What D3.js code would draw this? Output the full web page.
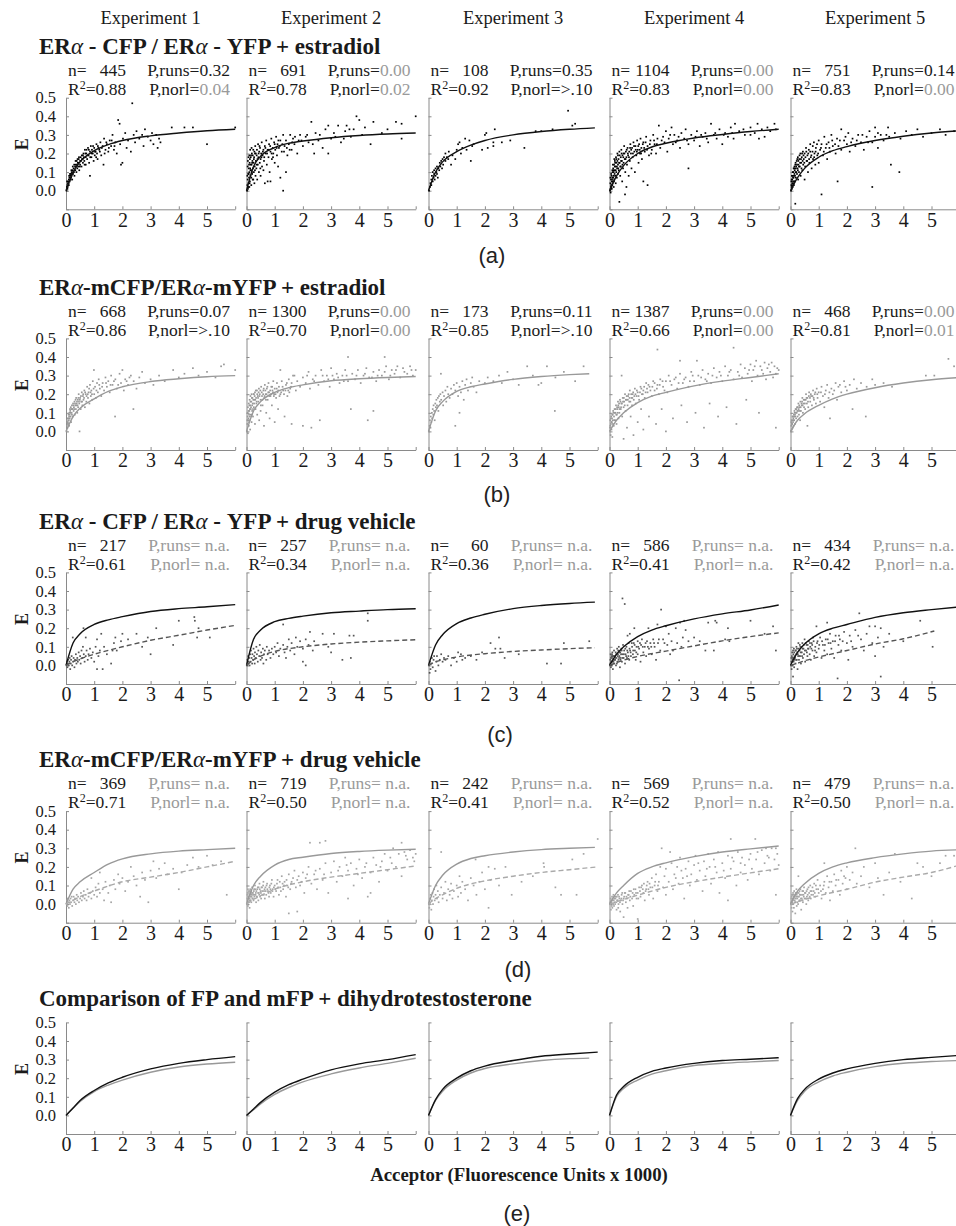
<!DOCTYPE html>
<html><head><meta charset="utf-8">
<script src="https://cdn.jsdelivr.net/npm/d3@7"></script>
<style>body{margin:0;background:#fff}svg{display:block}</style></head>
<body><svg id="chart" width="956" height="1226"></svg>
<script>
// ---------- labels ----------
const experiments = ["Experiment 1","Experiment 2","Experiment 3","Experiment 4","Experiment 5"];
const rowTitles = [
  ["ER","α"," - CFP / ER","α"," - YFP + estradiol"],
  ["ER","α","-mCFP/ER","α","-mYFP + estradiol"],
  ["ER","α"," - CFP / ER","α"," - YFP + drug vehicle"],
  ["ER","α","-mCFP/ER","α","-mYFP + drug vehicle"],
  ["Comparison of FP and mFP + dihydrotestosterone"]
];
const panelLetters = ["(a)","(b)","(c)","(d)","(e)"];
const xTickLabels = [0,1,2,3,4,5];
const yTickLabels = [0.0,0.1,0.2,0.3,0.4,0.5];
const xAxisTitle = "Acceptor (Fluorescence Units x 1000)";

// ---------- statistics ----------
const nA = [445,691,108,1104,751], r2A = ["0.88","0.78","0.92","0.83","0.83"];
const runsA = ["0.32","0.00","0.35","0.00","0.14"], runsSigA = [0,1,0,1,0];
const norlA = ["0.04","0.02",">.10","0.00","0.00"], norlSigA = [1,1,0,1,1];
const nB = [668,1300,173,1387,468], r2B = ["0.86","0.70","0.85","0.66","0.81"];
const runsB = ["0.07","0.00","0.11","0.00","0.00"], runsSigB = [0,1,0,1,1];
const norlB = [">.10","0.00",">.10","0.00","0.01"], norlSigB = [0,1,0,1,1];
const nC = [217,257,60,586,434], r2C = ["0.61","0.34","0.36","0.41","0.42"];
const nD = [369,719,242,569,479], r2D = ["0.71","0.50","0.41","0.52","0.50"];

// ---------- scatter points (flat x,y pairs) ----------
const ptsA1=[.02,0,.03,.02,.05,.03,.05,.01,.07,.04,.08,.05,.1,.06,.1,.03,.12,.07,.13,.05,.15,.08,.15,.06,.17,.09,.18,.07,.2,.1,.2,.08,.22,.06,.23,.11,.25,.09,.27,.12,.28,.1,.3,.08,.32,.13,.33,.11,.35,.14,.37,.1,.38,.16,.4,.12,.42,.15,.43,.13,.45,.17,.47,.11,.5,.16,.5,.14,.52,.18,.55,.13,.57,.17,.6,.15,.6,.19,.62,.2,.65,.16,.67,.22,.7,.18,.7,.14,.72,.2,.75,.17,.78,.23,.8,.19,.82,.15,.85,.21,.85,.08,.88,.24,.9,.18,.92,.22,.95,.2,.98,.16,1,.23,1.02,.19,1.05,.21,1.08,.25,1.1,.2,1.12,.17,1.15,.23,1.2,.21,1.22,.26,1.25,.19,1.3,.24,1.33,.14,1.35,.28,1.4,.22,1.45,.25,1.5,.21,1.55,.27,1.6,.24,1.65,.3,1.7,.22,1.75,.26,1.8,.2,1.85,.38,1.9,.36,1.92,.25,1.95,.14,2,.15,2.02,.28,2.1,.31,2.15,.23,2.2,.27,2.3,.21,2.35,.47,2.4,.3,2.45,.26,2.5,.32,2.6,.28,2.7,.3,2.75,.24,2.8,.33,2.9,.29,3,.27,3.05,.31,3.1,.25,3.2,.3,3.25,.23,3.3,.28,3.35,.26,3.75,.34,4.2,.34,4.5,.34,5,.25,6,.34];
const ptsA1b=[.04,.05,.06,.02,.09,.04,.11,.08,.14,.09,.16,.06,.19,.11,.21,.09,.24,.13,.26,.1,.29,.14,.31,.11,.34,.16,.36,.13,.39,.14,.41,.17,.44,.15,.46,.18,.49,.13,.53,.16,.56,.19,.59,.17,.63,.18,.66,.14,.69,.2,.73,.22,.77,.19,.81,.22,.86,.18,.91,.2,.96,.24,1.03,.21,1.07,.18,1.13,.24,1.18,.22,1.27,.23,1.37,.2,1.43,.26,1.52,.23,1.62,.27,1.72,.24];
const ptsA2=[.02,0,.03,.03,.04,.06,.05,.01,.06,.09,.07,.04,.08,.12,.09,.07,.1,.02,.1,.1,.11,.15,.12,.05,.13,.12,.14,.08,.15,.18,.16,.11,.17,.03,.18,.14,.19,.2,.2,.09,.21,.16,.22,.06,.23,.12,.24,.22,.25,.15,.26,.1,.27,.18,.28,.04,.29,.13,.3,.2,.31,.24,.32,.08,.33,.16,.35,.12,.36,.19,.37,.22,.38,.06,.4,.14,.41,.25,.42,.18,.44,.1,.45,.21,.47,.15,.48,.23,.5,.17,.5,.08,.52,.2,.54,.26,.55,.13,.57,.19,.6,.22,.6,.11,.62,.16,.65,.04,.65,.24,.68,.2,.7,.27,.72,.14,.75,.05,.75,.22,.78,.18,.8,.25,.82,.1,.85,.05,.85,.21,.88,.28,.9,.17,.93,.23,.95,.2,.98,.26,1,.15,1.02,.22,1.05,.29,1.08,.19,1.1,.25,1.12,.13,1.15,.23,1.2,.07,1.2,.27,1.25,.21,1.3,0,1.3,.3,1.35,.24,1.4,.1,1.4,.27,1.45,.19,1.5,.25,1.55,.3,1.6,.22,1.65,.28,1.7,.25,1.8,.2,1.85,.27,1.9,.3,2,.24,2.1,.29,2.2,.26,2.3,.37,2.4,.2,2.45,.31,2.55,.27,2.7,.23,2.8,.33,2.9,.2,2.9,.35,3,.28,3.1,.31,3.25,.35,3.35,.26,3.5,.32,3.55,.35,3.7,.29,3.8,.33,3.9,.4,4,.38,4.1,.3,4.2,.34,4.4,.25,4.5,.37,4.8,.31,5,.33,5.3,.37,5.5,.28,5.5,.36,6,.4];
const ptsA2b=[.03,.08,.04,.13,.05,.16,.06,.02,.07,.18,.08,.09,.09,.14,.1,.19,.11,.04,.12,.17,.13,.22,.14,.11,.15,.14,.16,.19,.17,.07,.18,.23,.19,.1,.2,.15,.22,.19,.24,.06,.26,.17,.28,.21,.3,.11,.33,.2,.36,.14,.39,.17,.43,.2,.46,.24,.49,.12,.53,.18,.58,.21,.63,.18,.67,.23,.73,.2,.79,.22,.84,.24,.89,.2,.94,.18,1,.25,1.07,.23,1.13,.27,1.18,.24,1.27,.25,1.33,.21,1.43,.23,1.53,.22,1.62,.26,1.72,.29,1.95,.27,2.15,.3,2.35,.25,2.6,.3,3.15,.29,3.45,.28,3.65,.33];
const ptsA3=[.02,0,.05,.02,.07,.04,.1,.03,.1,.06,.12,.08,.15,.05,.15,.1,.18,.07,.2,.09,.2,.11,.22,.06,.25,.08,.25,.12,.28,.1,.3,.13,.3,.09,.33,.07,.35,.12,.38,.11,.4,.15,.42,.13,.45,.16,.48,.12,.5,.17,.52,.14,.55,.18,.6,.16,.6,.2,.65,.18,.7,.17,.72,.21,.8,.14,.85,.19,.95,.17,1,.22,1.05,.25,1.1,.26,1.15,.2,1.2,.23,1.3,.28,1.35,.22,1.45,.27,1.5,.16,1.55,.24,1.6,.25,1.9,.22,2,.3,2.05,.31,2.1,.23,2.3,.26,2.3,.24,2.35,.33,2.6,.26,2.9,.27,3.4,.23,3.8,.32,4,.32,4.4,.33,4.95,.43,5.1,.35,5.2,.36];
const ptsA4=[.02,0,.03,.04,.04,-.01,.05,.02,.05,.06,.06,.03,.07,.08,.08,.01,.08,.05,.1,.07,.1,.03,.11,.1,.12,.05,.13,.12,.14,.08,.15,.02,.15,.1,.16,.14,.17,.06,.18,.11,.19,.16,.2,.08,.21,.13,.22,.04,.23,.18,.24,.1,.25,.15,.26,.07,.27,.12,.28,.2,.3,.14,.3,.09,.32,.17,.33,.11,.35,-.06,.35,.21,.36,.15,.38,.08,.4,.18,.4,.13,.42,.22,.44,.16,.45,.05,.46,.19,.48,.12,.5,.2,.5,.15,.52,.24,.54,.17,.55,-.02,.56,.1,.58,.21,.6,.02,.6,.18,.62,.14,.64,.23,.66,.19,.68,.08,.7,.21,.72,.16,.74,.25,.76,.2,.78,.12,.8,.23,.82,.18,.85,.26,.88,.21,.9,.1,.92,.24,.95,.19,.98,.27,1,.22,1.03,.15,1.05,.25,1.08,.2,1.1,.28,1.13,.23,1.15,.17,1.2,.05,1.2,.26,1.25,.21,1.3,.29,1.35,.03,1.35,.24,1.4,.19,1.45,.27,1.5,.22,1.55,.3,1.6,.25,1.65,.2,1.7,.28,1.75,.35,1.8,.23,1.9,.29,1.95,.26,2,.32,2.05,.21,2.1,.28,2.2,.34,2.25,.25,2.3,.3,2.4,.27,2.5,.23,2.55,.31,2.65,.28,2.7,.33,2.8,.12,2.8,.25,2.9,.3,3,.27,3.1,.32,3.2,.24,3.3,.29,3.4,.31,3.5,.26,3.6,.36,3.7,.3,3.8,.28,3.9,.33,4,.25,4.1,.31,4.2,.29,4.3,.34,4.45,.36,4.4,.28,4.6,.32,4.8,.3,5,.3,5,.34,5.25,.36,5.3,.28,5.4,.33,5.5,.29,5.7,.32,5.85,.36,5.9,.33];
const ptsA4b=[.03,.07,.04,.01,.06,.09,.07,.02,.09,.06,.1,.11,.11,.04,.12,.14,.13,.07,.14,.11,.16,.05,.17,.17,.18,.09,.19,.13,.2,.15,.22,.11,.24,.17,.26,.13,.28,.16,.3,.19,.31,.12,.34,.15,.36,.19,.38,.13,.41,.16,.43,.2,.46,.14,.49,.18,.53,.2,.57,.17,.61,.22,.65,.2,.69,.18,.73,.23,.77,.22,.83,.2,.87,.24,.93,.22,.97,.21,1.02,.24,1.07,.22,1.12,.2,1.18,.25,1.23,.23,1.28,.26,1.33,.22,1.43,.25,1.48,.2,1.58,.27,1.68,.25,1.85,.27,2.15,.3,2.35,.26,2.45,.29,2.75,.27,3.05,.29,3.25,.3,3.45,.28,3.75,.31,4.05,.3,4.35,.31,4.75,.33,5.15,.31,5.6,.34];
const ptsA5=[.02,0,.03,.03,.04,.06,.05,.01,.06,.04,.07,.08,.08,.02,.09,.05,.1,.1,.11,.07,.12,.03,.13,.12,.14,.09,.15,.05,.17,-.07,.17,.14,.18,.1,.19,.07,.2,.13,.22,.16,.23,.09,.25,.12,.26,.18,.27,.06,.28,.14,.3,.1,.31,.17,.33,.13,.35,.2,.36,.08,.38,.15,.4,.18,.42,.11,.44,.21,.45,.14,.47,.17,.5,.06,.5,.2,.52,.13,.55,.23,.57,.16,.6,.19,.62,.1,.65,.22,.67,.15,.7,.25,.72,.18,.75,.12,.78,.21,.8,.17,.83,.26,.85,.2,.88,.14,.9,.23,.95,.19,1,.27,1,.15,1.05,.22,1.1,-.02,1.1,.25,1.15,.19,1.2,.29,1.25,.23,1.3,.17,1.35,.26,1.4,.21,1.45,.3,1.5,.24,1.6,.2,1.67,.05,1.65,.28,1.7,.24,1.8,.33,1.8,.22,1.9,.27,2,.25,2.05,.31,2.1,.21,2.2,.28,2.3,.24,2.4,.3,2.5,.26,2.6,.22,2.7,.29,2.8,.32,2.9,.02,2.9,.26,3,.34,3,.29,3.1,.23,3.2,.3,3.3,.27,3.46,.34,3.5,.29,3.56,.14,3.7,.31,3.86,.1,3.9,.28,4.1,.32,4.3,.3,4.5,.33,4.7,.29,5,.31,5.3,.33,5.5,.3,5.8,.32,6,.35];
const ptsA5b=[.03,.05,.04,.02,.05,.08,.06,.06,.07,.03,.08,.1,.09,.07,.1,.04,.11,.12,.12,.08,.13,.05,.14,.13,.15,.11,.16,.08,.18,.15,.19,.12,.21,.1,.23,.14,.24,.17,.26,.11,.28,.16,.3,.13,.32,.19,.34,.15,.37,.17,.39,.12,.41,.2,.43,.16,.46,.19,.49,.15,.53,.18,.56,.21,.59,.16,.63,.2,.66,.17,.7,.21,.74,.19,.79,.24,.84,.18,.89,.21,.94,.25,.98,.2,1.08,.23,1.18,.21,1.28,.25,1.38,.23,1.48,.27,1.58,.25,1.75,.27,1.95,.29,2.15,.26,2.35,.27,2.55,.3,2.75,.26,3.1,.31,3.4,.3];
const ptsB1=[.02,0,.03,.03,.04,.05,.05,.02,.06,.07,.08,.04,.09,.09,.1,.06,.11,.03,.12,.1,.13,.07,.15,.11,.16,.08,.17,.13,.18,.05,.2,.1,.21,.14,.22,.12,.24,.08,.25,.15,.27,.11,.28,.13,.3,.16,.31,.09,.33,.14,.35,.12,.36,.18,.38,.15,.4,.1,.42,.17,.43,.13,.45,.2,.47,.15,.48,0,.5,.18,.52,.12,.54,.16,.56,.21,.58,.14,.6,.19,.62,.17,.65,.22,.67,.13,.7,.2,.72,.16,.75,.24,.78,.18,.8,.21,.83,.15,.85,.25,.88,.19,.9,.22,.93,.17,.95,.27,.99,.33,1,.2,1.03,.24,1.06,.18,1.1,.26,1.13,.21,1.16,.28,1.2,.23,1.25,.19,1.3,.26,1.35,.22,1.4,.29,1.45,.24,1.5,.27,1.55,.21,1.6,.3,1.65,.25,1.74,.08,1.75,.28,1.8,.23,1.9,.31,1.95,.26,2,.33,2.05,.22,2.1,.28,2.2,.25,2.3,.3,2.39,.12,2.4,.27,2.5,.23,2.6,.29,2.7,.32,2.8,.26,3,.28,3.1,.25,3.3,.3,3.5,.27,3.8,.33,4,.29,4.2,.31,4.5,.34,4.7,.3,5,.32,5.3,.29,5.5,.35,5.6,.36,6,.33];
const ptsB1b=[.03,.06,.05,.04,.07,.05,.09,.07,.11,.08,.13,.09,.14,.12,.17,.1,.19,.12,.21,.09,.23,.12,.26,.14,.29,.12,.32,.15,.34,.17,.37,.14,.39,.16,.41,.14,.44,.18,.46,.16,.49,.17,.53,.19,.57,.16,.61,.2,.64,.18,.68,.21,.73,.19,.77,.2,.82,.23,.87,.21,.92,.2,.98,.23,1.08,.22,1.18,.25,1.28,.24,1.42,.26,1.58,.25,1.7,.27,1.85,.25,2.15,.27,2.25,.29];
const ptsB2=[.02,0,.03,.04,.04,.08,.05,-.01,.06,.06,.07,.11,.08,.03,.09,.09,.1,.14,.11,.06,.12,.12,.13,.01,.14,.16,.15,.09,.16,.13,.18,.05,.19,.18,.2,.11,.22,.15,.23,.08,.25,.2,.26,.13,.28,.17,.3,.04,.3,.21,.32,.12,.34,.18,.35,.15,.37,.22,.38,.09,.4,.19,.42,.16,.44,.23,.45,.06,.47,.2,.5,.17,.5,.11,.52,.24,.55,.19,.57,.14,.6,.22,.62,.03,.63,.18,.65,.25,.68,.2,.7,.1,.72,.23,.75,.17,.78,.26,.8,.21,.82,.07,.85,.19,.88,.24,.9,.14,.92,.22,.95,.27,.98,.2,1,.05,1,.23,1.05,.18,1.08,.26,1.1,.21,1.12,.12,1.15,.24,1.2,.33,1.2,.2,1.25,.27,1.3,.22,1.35,.08,1.4,.25,1.45,.19,1.5,.28,1.55,.23,1.6,.04,1.6,.26,1.7,.3,1.75,.22,1.8,.27,1.9,.24,2,.03,2,.29,2.1,.26,2.2,.32,2.25,.23,2.3,.02,2.35,.28,2.45,.3,2.55,.25,2.6,.06,2.65,.33,2.75,.27,2.85,.3,2.95,.24,3,.34,3.1,.28,3.2,.31,3.3,.26,3.4,.3,3.5,.33,3.6,.4,3.6,.27,3.7,.12,3.75,.31,3.85,.28,3.95,.33,4.05,.26,4.15,.3,4.25,.34,4.3,.06,4.35,.29,4.5,.11,4.5,.32,4.6,.27,4.7,.33,4.8,.3,4.9,.4,4.95,.35,5.05,.28,5.15,.33,5.25,.31,5.35,.35,5.45,.29,5.55,.34,5.7,.31,5.8,.35,5.9,.3,6,.33];
const ptsB2b=[.03,.06,.04,.1,.05,.13,.07,.07,.08,.15,.09,.05,.1,.11,.11,.17,.12,.08,.13,.14,.14,.19,.15,.12,.17,.16,.18,.2,.19,.09,.2,.14,.21,.18,.23,.12,.24,.17,.26,.2,.27,.15,.29,.19,.31,.17,.33,.22,.36,.16,.38,.2,.41,.18,.43,.21,.46,.19,.49,.22,.51,.14,.54,.21,.56,.17,.59,.2,.61,.23,.64,.19,.67,.22,.69,.17,.71,.2,.74,.24,.77,.21,.81,.19,.84,.22,.87,.2,.91,.24,.94,.21,.97,.19,1.03,.2,1.07,.23,1.13,.22,1.17,.19,1.23,.21,1.28,.24,1.33,.2,1.38,.22,1.43,.26,1.48,.22,1.52,.21,1.58,.24,1.65,.3,2.15,.3,2.4,.27,2.7,.3,2.9,.28,3.05,.3,3.25,.29,3.45,.27,3.55,.3,3.9,.3,4.2,.31,4.45,.29,4.65,.3,4.9,.32,5.1,.3,5.3,.33,5.6,.32,5.85,.33];
const ptsB3=[.02,0,.04,.03,.05,.06,.07,.02,.08,.08,.1,.05,.12,.1,.13,.07,.15,.12,.17,.09,.18,.14,.2,.11,.22,.06,.24,.15,.26,.13,.28,.17,.3,.14,.33,.18,.35,.11,.37,.19,.4,.16,.42,.2,.44,.31,.45,.17,.5,.21,.52,.14,.55,.19,.6,.22,.63,.16,.67,.24,.7,.2,.75,.18,.8,.23,.85,.2,.9,.25,.95,.03,.95,.22,1,.26,1.05,.19,1.1,.1,1.1,.24,1.15,.21,1.2,.27,1.25,.17,1.3,.25,1.35,.28,1.4,.22,1.5,.26,1.55,.29,1.6,.24,1.7,.21,1.8,.27,2,.26,2.1,.29,2.3,.27,2.5,.3,2.6,.26,2.8,.32,3,.28,3.2,.25,3.5,.35,3.7,.3,3.9,.25,4,.26,4.2,.35,4.48,.11,4.5,.29,4.8,.32,5.2,.27,5.5,.35];
const ptsB4=[.02,.02,.03,.06,.04,-.02,.05,.04,.06,.08,.07,.01,.08,.05,.1,.09,.1,-.03,.12,.06,.13,.11,.15,.03,.16,.08,.18,.12,.2,.06,.21,.1,.23,.14,.25,.04,.26,.09,.28,.12,.3,.16,.32,.07,.33,.13,.35,.1,.37,.17,.4,.12,.42,.15,.43,.3,.45,.08,.47,.18,.5,.13,.5,-.04,.52,.16,.55,.2,.57,.11,.6,.17,.62,.02,.64,.14,.66,.19,.7,.16,.72,.22,.75,.08,.78,.18,.8,.14,.82,.2,.85,-.02,.86,.17,.9,.23,.93,.15,.96,.19,1,.21,1,.05,1.05,.17,1.1,.24,1.12,.12,1.15,.2,1.2,.01,1.2,.22,1.25,.18,1.3,.26,1.35,.21,1.4,.08,1.42,.24,1.5,.19,1.55,.27,1.6,.22,1.65,.04,1.7,.44,1.7,.25,1.75,.2,1.8,.28,1.85,.12,1.9,.24,2,.27,2,0,2.05,.21,2.1,.3,2.2,.25,2.25,.07,2.3,.28,2.4,.23,2.5,.38,2.5,.31,2.55,.14,2.6,.26,2.7,.29,2.75,.05,2.8,.24,2.9,.32,3,.27,3.05,.1,3.1,.38,3.15,.3,3.2,.25,3.3,.33,3.35,.02,3.4,.28,3.5,.31,3.55,.15,3.6,.26,3.7,.34,3.8,.29,3.85,.08,3.9,.32,4,.27,4.1,.35,4.15,.13,4.2,.3,4.3,.33,4.4,.45,4.4,.28,4.5,.04,4.55,.32,4.65,.36,4.7,.29,4.8,.34,4.85,.17,4.9,.31,5,.36,5.05,.27,5.1,.33,5.2,.38,5.25,.3,5.3,.1,5.35,.35,5.45,.31,5.5,.37,5.55,.28,5.6,.34,5.7,.32,5.75,.37,5.8,.29,5.85,.35,5.9,.31,5.95,.34,5.9,.02,6,.33];
const ptsB4b=[.03,.03,.05,.07,.07,.05,.09,.07,.11,.09,.12,.04,.14,.1,.17,.06,.19,.1,.22,.12,.24,.09,.27,.13,.29,.1,.31,.14,.34,.15,.36,.12,.39,.16,.41,.13,.44,.15,.48,.16,.51,.18,.54,.14,.58,.17,.61,.19,.65,.17,.68,.2,.71,.18,.74,.16,.77,.2,.81,.18,.84,.21,.88,.19,.92,.2,.97,.22,1.03,.19,1.08,.21,1.13,.23,1.18,.2,1.23,.24,1.28,.21,1.33,.23,1.38,.25,1.45,.22,1.52,.24,1.6,.26,1.68,.23,1.78,.25,1.88,.27,1.95,.22,2.15,.27,2.35,.29,2.45,.26,2.65,.28,2.85,.27,2.95,.3,3.25,.29,3.45,.27,3.65,.3,3.95,.3,4.25,.32,4.6,.3,4.95,.33,5.15,.35,5.4,.33,5.65,.36];
const ptsB5=[.02,0,.03,.03,.04,.06,.05,.01,.06,.04,.07,.08,.08,.02,.09,.05,.1,.07,.11,.03,.12,.09,.13,.06,.15,.1,.16,.04,.17,.08,.18,.12,.2,.07,.22,.1,.23,.13,.25,.08,.27,.11,.28,.15,.3,.09,.32,.13,.34,.06,.35,.16,.37,.11,.4,.14,.42,.18,.44,.1,.46,.15,.48,.13,.5,.17,.52,.12,.55,.2,.58,.15,.6,.03,.6,.18,.63,.13,.66,.21,.7,.16,.73,.19,.76,.14,.8,.22,.83,.17,.86,.2,.9,.15,.93,.23,.96,.18,1,.21,1.05,.16,1.1,.24,1.15,.19,1.2,.13,1.25,.22,1.3,.25,1.35,.18,1.4,.07,1.45,.23,1.5,.2,1.6,.26,1.65,.17,1.7,.24,1.8,.21,1.9,.27,2,.22,2.1,.25,2.2,.12,2.25,.28,2.35,.23,2.5,.26,2.67,.08,2.7,.24,2.9,.28,3,.25,3.3,.26,3.6,.24,4.8,.3,5.1,.3,5.6,.39,5.8,.35];
const ptsB5b=[.03,.05,.05,.04,.07,.06,.09,.08,.11,.06,.13,.08,.14,.11,.16,.09,.19,.1,.21,.12,.24,.11,.26,.13,.29,.12,.31,.14,.33,.11,.36,.13,.39,.15,.41,.16,.43,.14,.47,.17,.51,.15,.54,.17,.57,.18,.62,.16,.65,.19,.69,.18,.72,.2,.78,.19,.82,.18,.88,.21,.95,.2,1.08,.21,1.22,.2,1.38,.21,1.55,.22,1.75,.25,1.95,.24];
const ptsC1=[.02,0,.03,.02,.05,-.01,.06,.01,.08,.03,.1,0,.12,.02,.13,.04,.15,-.02,.17,.01,.18,.03,.2,.05,.22,0,.24,.15,.25,.02,.27,.04,.3,-.01,.32,.03,.35,.06,.37,.01,.4,.04,.42,.02,.45,.07,.47,.03,.5,.05,.52,.01,.55,.08,.58,.04,.6,.1,.62,.2,.63,.06,.66,.02,.7,.15,.7,.05,.73,.08,.77,.03,.8,.06,.85,.09,.9,.04,.95,.07,1,.02,1.05,.1,1.1,-.02,1.1,.14,1.15,.05,1.2,.08,1.25,.17,1.3,-.02,1.35,.1,1.45,.06,1.6,.01,1.65,.08,1.7,.12,1.75,.15,1.8,.08,1.95,.13,2,.17,2.2,.14,2.5,.17,2.7,.1,2.9,.15,3,.06,3.2,.2,3.8,.11,4,.24,4.55,.26,4.57,.24,4.65,.15,4.7,.2,5.1,.15];
const ptsC2=[.02,0,.03,.03,.05,.01,.06,.05,.08,.02,.1,.04,.11,0,.13,.06,.15,.02,.16,.08,.18,.04,.2,.01,.21,.06,.23,.03,.25,.09,.27,.05,.29,.01,.3,.07,.32,.04,.35,.1,.37,.06,.4,.02,.42,.08,.45,.05,.47,.11,.5,.03,.52,.07,.55,.04,.58,.09,.6,.01,.62,.06,.65,.08,.7,.03,.72,.1,.75,.06,.8,.08,.85,.04,.9,.09,.95,.06,1,.1,1.05,.07,1.1,.12,1.15,.05,1.2,.09,1.3,.11,1.3,.22,1.35,.07,1.4,.04,1.45,.1,1.5,.14,1.55,.08,1.6,.12,1.7,.06,1.75,.15,1.8,.1,1.9,.13,2,.02,2,.09,2.1,0,2.1,.14,2.2,.11,2.25,.18,2.35,.08,2.4,.13,2.7,.17,2.9,.1,3,.07,3.1,.17,3.4,.03,3.65,.16,3.7,.04,3.8,.16,4.3,.24,4.3,.28];
const ptsC3=[.02,0,.04,-.04,.05,.02,.07,-.02,.1,.01,.12,.04,.15,-.01,.18,.03,.2,.05,.25,-.03,.28,.02,.3,.05,.35,0,.4,.03,.45,.06,.5,.02,.55,.04,.6,.03,.7,.05,.8,0,.9,.04,1,.02,1.05,.07,1.15,.06,1.2,.03,1.3,.04,1.5,.05,1.7,.03,1.9,.07,2.2,.12,2.37,.09,2.5,.15,2.55,.09,2.7,.04,3.2,.06,4.2,.01,4.7,.01,4.8,.12,5.7,.13];
const ptsC4=[.02,0,.03,.03,.04,.06,.05,-.01,.06,.02,.07,.05,.08,0,.09,.04,.1,.07,.11,.02,.12,-.02,.13,.05,.15,.03,.16,.08,.17,.01,.19,.05,.2,.03,.22,.07,.23,0,.25,.04,.27,.09,.28,.02,.3,.06,.32,.03,.33,.1,.35,.05,.37,-.01,.38,.07,.4,.04,.42,.09,.44,.02,.46,.36,.46,.06,.48,.11,.5,.04,.52,.08,.54,.33,.55,.01,.57,.06,.6,.1,.62,.04,.64,.16,.65,.07,.68,.12,.7,.03,.72,.17,.73,.08,.76,.05,.8,.1,.83,.06,.86,.12,.88,.2,.9,.08,.93,.03,.96,.1,1,.13,1,.06,1.05,.09,1.1,.02,1.12,.11,1.15,.14,1.2,.07,1.25,.1,1.3,.05,1.33,.13,1.38,.2,1.4,.09,1.45,.12,1.5,.06,1.55,.14,1.6,.1,1.65,.03,1.7,.22,1.72,.12,1.8,.08,1.83,.3,1.9,.14,2,.21,2.05,.11,2.1,.17,2.15,.06,2.25,.08,2.35,.2,2.4,.12,2.47,-.08,2.5,.23,2.55,.1,2.65,.24,2.7,.19,2.8,.13,3,.15,3.2,.13,3.4,.08,3.5,.23,3.7,.08,3.75,.24,3.8,.23,4.1,.14,4.2,.2,4.25,.13,5,.24,5.5,.17,5.8,.21,5.9,.08];
const ptsC4b=[.03,.01,.05,.04,.07,.02,.09,.06,.11,.05,.14,.02,.16,.05,.18,.03,.21,.04,.24,.06,.26,.01,.29,.05,.31,.08,.34,.04,.36,.07,.39,.03,.41,.06,.43,.08,.47,.04,.51,.06,.56,.09,.59,.05,.63,.08,.67,.05,.71,.09,.75,.07,.79,.12,.84,.08,.89,.11,.95,.07,1.02,.1,1.08,.12,1.18,.1,1.28,.12,1.36,.1,1.48,.1,1.58,.12,1.75,.14,1.95,.12,2.2,.13,2.6,.15];
const ptsC5=[.02,0,.03,.04,.04,-.02,.05,.02,.06,.07,.07,0,.08,.04,.09,-.06,.1,.06,.11,.02,.12,.09,.13,-.01,.14,.05,.15,.03,.17,.08,.18,.01,.2,.06,.21,.1,.22,.03,.24,.07,.25,-.02,.27,.05,.28,.12,.3,.03,.32,.08,.34,.05,.35,.1,.37,.01,.4,.07,.42,.12,.44,.04,.46,.09,.48,.06,.5,.14,.52,.02,.55,.08,.57,.11,.6,.05,.62,.09,.65,.13,.68,.06,.7,.1,.72,.03,.75,.12,.78,.08,.8,.15,.84,.05,.88,.1,.92,.21,.92,.07,.96,.13,1,.09,1.05,.15,1.1,.04,1.15,.11,1.2,.08,1.25,.14,1.3,.23,1.3,.06,1.35,.12,1.4,.17,1.45,.09,1.5,.13,1.55,.04,1.6,.16,1.67,-.07,1.7,.11,1.75,.14,1.8,.08,1.9,.18,2,.12,2.05,.03,2.1,.16,2.2,.1,2.3,.19,2.44,.28,2.5,.14,2.6,.08,2.7,.17,2.8,.21,2.9,.12,3,.21,3,.05,3.1,.15,3.2,.2,3.2,-.06,3.3,.1,3.5,.17,4,.13,4.6,.24,5.04,.1];
const ptsC5b=[.03,.02,.05,.05,.07,.03,.09,.08,.11,.04,.13,.07,.16,.04,.19,.08,.21,.03,.23,.09,.26,.06,.29,.09,.31,.05,.33,.11,.36,.07,.39,.1,.41,.05,.43,.09,.47,.11,.51,.08,.54,.12,.58,.07,.61,.11,.64,.09,.69,.12,.74,.09,.77,.11,.82,.13,.87,.08,.94,.12,1.02,.11,1.12,.13,1.22,.11,1.32,.14,1.42,.12,1.58,.13,1.72,.16,1.85,.13,2.15,.13,2.4,.16];
const ptsD1=[.02,0,.03,.02,.05,-.01,.06,.03,.08,.01,.1,-.02,.12,.02,.14,0,.16,.03,.18,.01,.2,.04,.22,-.01,.25,.02,.27,.04,.3,.01,.32,.03,.35,0,.38,.05,.4,.02,.43,.04,.46,.01,.5,.03,.53,.06,.56,.02,.6,.04,.63,.07,.66,.03,.7,.05,.73,.02,.76,.08,.8,.04,.85,.06,.9,.14,.9,.03,.95,.07,1,.05,1.05,.09,1.1,.04,1.15,.11,1.2,.17,1.2,.06,1.3,.08,1.35,.02,1.4,.12,1.5,.06,1.55,.1,1.6,.01,1.7,.13,1.75,.08,1.85,.16,1.9,.11,2,.14,2.1,.07,2.2,.12,2.3,.2,2.4,.15,2.5,.1,2.63,.04,2.7,.17,2.8,.13,2.92,.01,3,.18,3.1,.23,3.2,.14,3.3,.19,3.5,.22,3.6,.16,3.8,.19,4,.08,4.1,.17,4.3,.21,4.5,.25,4.7,.2,5,.26,5.2,.21,5.5,.23,5.7,.05];
const ptsD2=[.02,0,.03,.03,.04,.06,.05,-.01,.06,.04,.07,.01,.08,.07,.09,.03,.1,.05,.11,-.02,.12,.02,.13,.08,.15,.04,.16,.06,.17,.01,.19,.05,.2,.09,.22,.03,.23,.06,.25,.02,.27,.08,.28,.04,.3,.1,.32,.05,.34,.01,.35,.07,.37,.04,.4,.09,.42,.02,.44,.06,.46,.11,.48,.04,.5,.07,.52,.03,.55,.09,.57,.05,.6,.12,.62,.07,.65,.03,.67,.09,.7,.05,.73,.11,.76,.07,.8,.04,.83,.1,.86,.06,.9,.13,.93,.08,.96,.04,1,.1,1.05,.07,1.1,.13,1.15,.05,1.2,.09,1.25,.15,1.3,.08,1.35,.12,1.4,.04,1.45,.1,1.5,-.05,1.5,.16,1.55,.08,1.6,.12,1.7,.18,1.75,.09,1.8,-.04,1.8,.13,1.9,.1,2,.17,2.05,.06,2.1,.14,2.2,.2,2.25,.33,2.3,.11,2.4,.16,2.5,.08,2.6,.33,2.6,.19,2.7,.13,2.8,.34,2.8,.22,2.9,.06,3,.17,3.1,.23,3.2,.12,3.3,.2,3.4,.15,3.5,.25,3.6,.03,3.6,.18,3.7,.22,3.8,.1,3.9,.19,4,.24,4.1,.14,4.2,.2,4.3,.04,4.4,.06,4.4,.17,4.5,.25,4.6,.21,4.7,.12,4.8,.23,4.9,.27,5,.18,5.1,.25,5.2,.3,5.3,.2,5.4,.27,5.5,.33,5.5,.15,5.6,.28,5.7,.24,5.8,.29,5.9,.25,6,.27];
const ptsD2b=[.03,.05,.04,.02,.05,.08,.07,.04,.08,.01,.09,.06,.11,.03,.12,.07,.14,.05,.15,.02,.17,.07,.18,.04,.2,.06,.21,.03,.24,.05,.26,.07,.29,.05,.31,.08,.33,.06,.36,.04,.38,.08,.41,.06,.43,.09,.45,.05,.47,.08,.51,.06,.53,.09,.56,.07,.59,.1,.61,.05,.64,.08,.68,.07,.71,.1,.74,.08,.78,.06,.81,.09,.85,.08,.88,.11,.92,.07,.97,.09,1.02,.08,1.08,.11,1.12,.09,1.18,.12,1.22,.07,1.28,.11,1.33,.1,1.42,.13,1.48,.09,1.58,.11,1.65,.14,1.85,.15,1.95,.12,2.15,.16,2.45,.18,2.75,.16,3.25,.18,3.55,.21,3.95,.16,4.25,.22,4.75,.2,5.15,.22,5.65,.26,5.95,.23];
const ptsD3=[.02,0,.03,-.02,.05,.03,.06,0,.08,.05,.1,-.03,.12,.02,.14,.06,.16,0,.18,.04,.2,.08,.22,.02,.25,.05,.28,.1,.3,.03,.33,.07,.36,.01,.4,.05,.45,.28,.45,.09,.5,.03,.55,.06,.6,.12,.65,.02,.7,.08,.75,.05,.8,.11,.85,.03,.9,.07,1,.1,1.05,.04,1.1,.15,1.15,.06,1.2,.12,1.3,.08,1.4,.02,1.5,.14,1.6,.1,1.67,.24,1.7,.05,1.8,.12,1.9,.17,2,.08,2.13,.2,2.13,-.02,2.2,.13,2.35,.19,2.5,.1,2.73,.2,2.95,.05,3.3,.12,3.7,.15,4.08,.22,4.1,.2,4.5,.09,4.7,.05,5.1,.24,5.25,.05,5.5,.27,6,.35];
const ptsD4=[.02,0,.04,.03,.05,-.03,.07,.01,.09,.04,.1,-.02,.12,.02,.14,.05,.16,-.01,.18,.03,.2,0,.22,.04,.25,-.03,.27,.02,.3,.05,.32,0,.35,.03,.38,-.04,.4,.02,.43,.05,.46,0,.5,-.07,.5,.03,.54,.06,.58,.01,.6,.04,.64,-.02,.68,.05,.72,.02,.76,.07,.8,.03,.84,-.01,.88,.05,.92,.08,.96,.03,1,-.08,1,.06,1.05,.09,1.1,.04,1.15,.1,1.2,.06,1.25,.02,1.3,.08,1.35,.12,1.4,.05,1.45,.09,1.5,.14,1.55,.03,1.6,.1,1.65,.16,1.7,.07,1.75,.12,1.8,.2,1.85,.3,1.9,.09,1.95,.15,2,.05,2,.19,2.1,.12,2.15,.28,2.2,.22,2.25,.08,2.3,.16,2.4,.2,2.45,.11,2.5,.25,2.6,.14,2.65,.03,2.7,.19,2.8,.23,2.85,.1,2.9,.16,3,.21,3.05,.26,3.1,.13,3.2,.18,3.3,.07,3.35,.23,3.4,.15,3.5,.27,3.55,.2,3.6,.11,3.7,.24,3.8,.17,3.85,.28,3.9,.06,4,.22,4.1,.14,4.2,.02,4.2,.26,4.3,.35,4.3,.19,4.4,.23,4.5,.1,4.55,.28,4.65,.17,4.7,.25,4.8,.21,4.9,.13,5,.27,5.05,.19,5.17,.35,5.2,.24,5.3,.16,5.4,.29,5.5,.22,5.6,.26,5.7,.18,5.75,.3,5.85,.24,5.9,.05,5.9,.3,6,.21];
const ptsD4b=[.03,.01,.06,.02,.08,-.01,.11,.03,.13,0,.15,.02,.17,.04,.19,.01,.21,.03,.24,.01,.26,.04,.29,.02,.31,-.02,.34,.04,.37,.01,.42,.03,.45,.06,.48,.02,.52,.04,.56,.06,.62,.03,.66,.05,.7,.07,.74,.04,.82,.06,.86,.08,.94,.06,1.02,.03,1.08,.07,1.12,.09,1.18,.08,1.22,.11,1.28,.07,1.32,.1,1.38,.08,1.42,.11,1.52,.09,1.62,.12,1.72,.1,2.35,.14,2.55,.18,2.75,.15,3.15,.22,3.45,.19,3.75,.2,4.05,.18,4.35,.25,4.65,.22,4.95,.24,5.25,.28,5.55,.3,5.65,.25,5.95,.27];
const ptsD5=[.02,0,.03,.03,.04,-.02,.05,.05,.06,.01,.07,-.04,.08,.03,.09,.06,.1,0,.11,.04,.12,-.02,.13,.07,.15,.02,.16,.05,.17,-.05,.18,.01,.2,.04,.21,.08,.22,-.01,.24,.03,.25,.06,.27,0,.28,.15,.3,.04,.32,.07,.34,.02,.36,.05,.38,-.03,.4,.03,.42,.07,.44,.01,.46,.05,.48,.09,.5,.03,.53,.06,.56,0,.58,.04,.6,.08,.63,.02,.66,.06,.7,.1,.72,.03,.75,.07,.8,.05,.84,.11,.88,.04,.92,.08,.96,.13,1,.06,1.05,.1,1.1,.03,1.15,.08,1.2,.22,1.2,.12,1.25,.06,1.3,.15,1.35,.09,1.4,.02,1.45,.12,1.5,.07,1.55,.16,1.6,.1,1.7,.13,1.75,.05,1.8,.18,1.85,.11,1.9,.15,2,.2,2,.08,2.1,.13,2.2,.17,2.3,.3,2.35,.11,2.5,.15,2.6,.2,2.8,.09,3,.22,3.1,.14,3.3,.05,3.5,.17,3.7,.27,3.9,.12,4.3,.03,4.5,.22,4.7,.2,5,.15,5.3,.22,5.5,.26,5.8,.26];
const ptsD5b=[.03,.01,.04,.04,.06,.02,.07,.05,.09,.02,.1,.05,.12,.03,.14,.04,.16,.01,.18,.06,.19,.03,.22,.05,.24,.01,.26,.04,.29,.06,.31,.02,.33,.05,.35,.08,.37,.03,.41,.05,.43,.02,.45,.07,.47,.04,.51,.06,.54,.03,.57,.07,.61,.05,.64,.09,.68,.04,.71,.07,.74,.05,.78,.09,.82,.07,.86,.06,.9,.1,.98,.08,1.08,.07,1.18,.1,1.38,.12,1.62,.13,1.95,.14];

// ---------- fitted curves (flat x,y pairs) ----------
const fitA=[[0,0,.25,.1,.5,.155,1,.215,1.5,.248,2,.27,3,.295,4,.31,5,.322,6,.33],
 [0,0,.25,.13,.5,.185,1,.232,1.5,.255,2,.267,3,.285,4,.297,5,.305,6,.31],
 [0,0,.25,.1,.5,.155,1,.21,1.5,.245,2,.27,3,.3,4,.318,5,.33,5.9,.338],
 [0,0,.25,.08,.5,.135,1,.2,1.5,.235,2,.255,3,.283,4,.302,5,.318,6,.33],
 [0,0,.25,.07,.5,.12,1,.18,1.5,.215,2,.237,3,.27,4,.293,5,.31,6,.322]];
const fitB=[[0,0,.25,.08,.5,.125,1,.175,1.5,.215,2,.24,3,.268,4,.283,5,.294,6,.3],
 [0,0,.25,.11,.5,.16,1,.21,1.5,.235,2,.25,3,.272,4,.283,5,.29,6,.295],
 [0,0,.25,.11,.5,.16,1,.215,1.5,.24,2,.255,3,.28,4,.295,5,.305,5.7,.31],
 [0,0,.25,.06,.5,.1,1,.155,1.5,.19,2,.21,3,.245,4,.27,5,.29,6,.31],
 [0,0,.25,.06,.5,.095,1,.14,1.5,.175,2,.2,3,.235,4,.26,5,.278,6,.29]];
const fitC=[[0,0,.25,.12,.5,.17,1,.22,1.5,.245,2,.262,3,.29,4,.305,5,.315,6,.327],
 [0,0,.25,.14,.5,.19,1,.235,1.5,.253,2,.265,3,.283,4,.292,5,.3,6,.305],
 [0,0,.25,.11,.5,.165,1,.225,1.5,.255,2,.275,3,.305,4,.322,5,.333,5.9,.34],
 [0,0,.25,.06,.5,.1,1,.155,1.5,.19,2,.213,3,.25,4,.277,5,.298,6,.325],
 [0,0,.25,.07,.5,.115,1,.17,1.5,.2,2,.22,3,.258,4,.283,5,.3,6,.315]];
const vehC=[[0,0,.25,.02,.5,.035,1,.06,2,.1,3,.135,4,.162,5,.19,6,.215],
 [0,0,.25,.03,.5,.05,1,.075,2,.1,3,.115,4,.125,5,.132,6,.138],
 [0,0,.25,.02,.5,.03,1,.045,2,.063,3,.075,4,.083,5,.09,5.9,.095],
 [0,0,.25,.015,.5,.028,1,.048,2,.077,3,.105,4,.132,5,.155,6,.175],
 [0,0,.25,.012,.5,.025,1,.045,2,.08,3,.115,4,.143,5.1,.185]];
const fitD=[[0,0,.25,.08,.5,.12,1,.17,1.5,.215,2,.243,3,.27,4,.285,5,.293,6,.3],
 [0,0,.25,.1,.5,.15,1,.21,1.5,.24,2,.252,3,.272,4,.283,5,.29,6,.295],
 [0,0,.25,.1,.5,.155,1,.215,1.5,.245,2,.26,3,.28,4,.293,5,.3,5.9,.305],
 [0,0,.25,.06,.5,.1,1,.165,1.5,.2,2,.222,3,.255,4,.28,5,.297,6,.312],
 [0,0,.25,.07,.5,.11,1,.165,1.5,.2,2,.222,3,.25,4,.27,5,.285,6,.292]];
const vehD=[[0,0,.25,.02,.5,.04,1,.07,2,.12,3,.145,4,.17,5,.2,6,.23],
 [0,0,.25,.025,.5,.045,1,.08,2,.12,3,.145,4,.165,5,.185,6,.205],
 [0,0,.25,.03,.5,.05,1,.085,2,.125,3,.15,4,.17,5,.185,6,.2],
 [0,0,.25,.012,.5,.025,1,.048,2,.09,3,.12,4,.145,5,.168,6,.19],
 [0,0,.25,.012,.5,.025,1,.045,2,.08,3,.118,4,.145,5,.17,6,.21]];
const dhtFP=[[0,0,.25,.04,.5,.08,1,.134,1.5,.175,2,.205,3,.25,4,.28,5,.3,6,.316],
 [0,0,.25,.035,.5,.07,1,.125,1.5,.165,2,.195,3,.245,4,.277,5,.3,6,.327],
 [0,0,.25,.085,.5,.14,1,.2,1.5,.24,2,.265,3,.295,4,.318,5,.33,6,.34],
 [0,0,.25,.11,.5,.155,1,.205,1.5,.237,2,.255,3,.28,4,.295,5,.302,6,.31],
 [0,0,.25,.09,.5,.14,1,.195,1.5,.228,2,.25,3,.28,4,.3,5,.312,6,.323]];
const dhtMFP=[[0,0,.25,.038,.5,.075,1,.128,1.5,.163,2,.19,3,.232,4,.26,5,.276,6,.286],
 [0,0,.25,.03,.5,.062,1,.113,1.5,.15,2,.18,3,.223,4,.255,5,.28,6,.307],
 [0,0,.25,.08,.5,.13,1,.19,1.5,.228,2,.252,3,.277,4,.295,5,.305,5.7,.308],
 [0,0,.25,.1,.5,.145,1,.19,1.5,.222,2,.24,3,.268,4,.28,5,.288,6,.295],
 [0,0,.25,.08,.5,.13,1,.18,1.5,.212,2,.232,3,.262,4,.28,5,.29,6,.295]];

// ---------- assemble ----------
const scatterRows=[
  [ptsA1.concat(ptsA1b),ptsA2.concat(ptsA2b),ptsA3,ptsA4.concat(ptsA4b),ptsA5.concat(ptsA5b)],
  [ptsB1.concat(ptsB1b),ptsB2.concat(ptsB2b),ptsB3,ptsB4.concat(ptsB4b),ptsB5.concat(ptsB5b)],
  [ptsC1,ptsC2,ptsC3,ptsC4.concat(ptsC4b),ptsC5.concat(ptsC5b)],
  [ptsD1,ptsD2.concat(ptsD2b),ptsD3,ptsD4.concat(ptsD4b),ptsD5.concat(ptsD5b)],null];
const statRows=[
  {n:nA,r2:r2A,runs:runsA,runsSig:runsSigA,norl:norlA,norlSig:norlSigA},
  {n:nB,r2:r2B,runs:runsB,runsSig:runsSigB,norl:norlB,norlSig:norlSigB},
  {n:nC,r2:r2C,runs:null},{n:nD,r2:r2D,runs:null},null];
const lineRows=[
  [{d:fitA,c:"#111"}],[{d:fitB,c:"#999"}],
  [{d:fitC,c:"#111"},{d:vehC,c:"#555",dash:"5,3"}],
  [{d:fitD,c:"#999"},{d:vehD,c:"#aaa",dash:"5,3"}],
  [{d:dhtMFP,c:"#999"},{d:dhtFP,c:"#111"}]];
const dotColor=["#000","#999","#555","#a6a6a6"];

const pairs=a=>d3.range(0,a.length,2).map(i=>[a[i],a[i+1]]);

// ---------- layout ----------
const serif='"Liberation Serif","Times New Roman",Times,serif';
const sans='"Liberation Sans",Arial,sans-serif';
const colX0=[66,246.5,428.5,609.5,790.5];
const plotW=169.2, plotH=111.6;
const rowBottom=[209.3,450,684,922.7,1134];
const titleOff=[155.3,155.3,155.3,155.3,128];
const letterX=[492,497,500,518,517], letterY=[263,502,742,977,1221];
const GRAY="#9a9a9a", INK="#1a1a1a";

const x=d3.scaleLinear().domain([0,6]).range([0,plotW]);
const y=d3.scaleLinear().domain([-0.1,0.5]).range([plotH,0]);
const line=d3.line().x(d=>x(d[0])).y(d=>y(d[1])).curve(d3.curveMonotoneX);

const svg=d3.select("#chart");

experiments.forEach((e,i)=>svg.append("text").attr("x",colX0[i]+plotW/2).attr("y",24)
  .attr("text-anchor","middle").style("font-family",serif).style("font-size","18.5px").attr("fill",INK).text(e));

rowTitles.forEach((parts,r)=>{
  const t=svg.append("text").attr("x",39).attr("y",rowBottom[r]-titleOff[r])
    .style("font-family",serif).style("font-size","23px").style("font-weight","bold").attr("fill",INK);
  parts.forEach(p=>{const s=t.append("tspan").text(p); if(p==="α") s.style("font-weight","normal").style("font-style","italic");});
  svg.append("text").attr("x",letterX[r]).attr("y",letterY[r]).attr("text-anchor","middle")
    .style("font-family",sans).style("font-size","22px").attr("fill","#222").text(panelLetters[r]);

  const top=rowBottom[r]-plotH;
  svg.append("text").attr("transform",`translate(22,${top+(y(0)+y(0.5))/2}) rotate(-90)`)
    .attr("text-anchor","middle").attr("dominant-baseline","central")
    .style("font-family",serif).style("font-weight","bold").style("font-size","18px").attr("fill",INK).text("E");

  for(let c=0;c<5;c++){
    const g=svg.append("g").attr("transform",`translate(${colX0[c]},${top})`);
    const ya=g.append("g").call(d3.axisRight(y).tickValues(d3.range(-1,6).map(v=>v/10)).tickSize(3).tickSizeOuter(0).tickFormat(""));
    ya.selectAll("path,line").attr("stroke","#8a8a8a");
    if(c===0){
      const yl=g.append("g").call(d3.axisLeft(y).tickValues(yTickLabels).tickSize(0).tickPadding(10).tickFormat(d3.format(".1f")));
      yl.select(".domain").remove();
      yl.selectAll("text").style("font-family",serif).style("font-size","16.5px").attr("fill",INK);
    }
    const xa=g.append("g").attr("transform",`translate(0,${plotH})`)
      .call(d3.axisTop(x).tickValues([0,1,2,3,4,5,6]).tickSize(3).tickSizeOuter(0).tickFormat(""));
    xa.selectAll("path,line").attr("stroke","#8a8a8a");
    const xl=g.append("g").attr("transform",`translate(0,${plotH})`)
      .call(d3.axisBottom(x).tickValues(xTickLabels).tickSize(0).tickPadding(3).tickFormat(d3.format("d")));
    xl.select(".domain").remove();
    xl.selectAll("text").style("font-family",serif).style("font-size","20px").attr("fill",INK);

    if(scatterRows[r]){
      g.append("g").selectAll("rect").data(pairs(scatterRows[r][c])).join("rect")
        .attr("x",d=>x(d[0])-0.85).attr("y",d=>y(d[1])-0.85).attr("width",1.7).attr("height",1.7)
        .attr("fill",dotColor[r]);
    }
    lineRows[r].forEach(L=>{
      g.append("path").attr("d",line(pairs(L.d[c]))).attr("fill","none")
        .attr("stroke",L.c).attr("stroke-width",1.4).attr("stroke-dasharray",L.dash||null);
    });
    const S=statRows[r];
    if(S){
      const y1=rowBottom[r]-133.5-top, y2=rowBottom[r]-114.5-top;
      const txt=(xx,yy,anchor)=>g.append("text").attr("x",xx).attr("y",yy).attr("text-anchor",anchor)
        .style("font-family",serif).style("font-size","17.5px").attr("fill",INK);
      txt(2,y1,"start").text("n=");
      txt(60,y1,"end").text(S.n[c]);
      const r2=txt(2,y2,"start");
      r2.append("tspan").text("R");
      r2.append("tspan").style("font-size","12px").attr("dy",-6).text("2");
      r2.append("tspan").attr("dy",6).text("="+S.r2[c]);
      const t1=txt(164,y1,"end"), t2=txt(164,y2,"end");
      if(S.runs){
        t1.append("tspan").text("P,runs=");
        t1.append("tspan").attr("fill",S.runsSig[c]?GRAY:INK).text(S.runs[c]);
        t2.append("tspan").text("P,norl=");
        t2.append("tspan").attr("fill",S.norlSig[c]?GRAY:INK).text(S.norl[c]);
      } else {
        t1.attr("fill",GRAY).text("P,runs= n.a.");
        t2.attr("fill",GRAY).text("P,norl= n.a.");
      }
    }
  }
});

svg.append("text").attr("x",519).attr("y",1181).attr("text-anchor","middle")
  .style("font-family",serif).style("font-weight","bold").style("font-size","18.8px").attr("fill",INK).text(xAxisTitle);
</script></body></html>
